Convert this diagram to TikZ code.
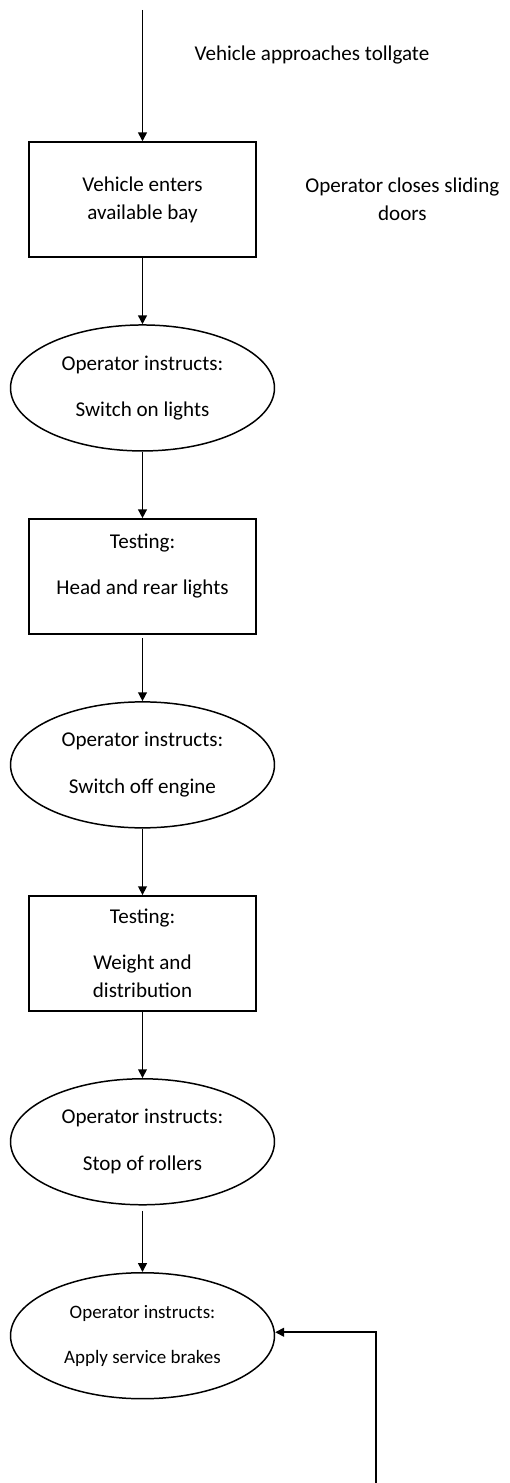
\documentclass[tikz,border=0pt]{standalone}
\usepackage{fontspec}
\setmainfont{Carlito}
\usepackage{tikz}
\usetikzlibrary{shapes,arrows.meta,positioning}

\begin{document}
\begin{tikzpicture}[
    x=0.02cm, y=-0.02cm,
    every node/.style={font=\fontsize{12}{15.9}\selectfont},
    stepbox/.style={draw, rectangle, line width=0.85pt, minimum width=4.54cm, minimum height=2.3cm, align=center},
    instruct/.style={draw, ellipse, line width=0.85pt, minimum width=5.28cm, minimum height=2.52cm, inner sep=0pt, align=center},
    note/.style={align=center},
    arrow/.style={-{Triangle[length=5pt,width=5pt]}, line width=0.85pt},
    node distance=1.33cm
]
\useasboundingbox (0,0) rectangle (510,1483);

\coordinate (start) at (142.5,10);
\node[stepbox] (enter) at (142.5,199.5) {Vehicle enters\\available bay};
\node[instruct, below=of enter] (lightson) {Operator instructs:\\[10.7pt]Switch on lights};
\node[stepbox, below=of lightson, text depth=14pt] (lights) {Testing:\\[10.7pt]Head and rear lights};
\node[instruct, below=of lights] (engineoff) {Operator instructs:\\[10.7pt]Switch off engine};
\node[stepbox, below=of engineoff] (weight) {Testing:\\[10.7pt]Weight and\\distribution};
\node[instruct, below=of weight] (rollers) {Operator instructs:\\[10.7pt]Stop of rollers};
\node[instruct, below=of rollers, font=\fontsize{10.8}{14}\selectfont] (brakes) {Operator instructs:\\[11.5pt]Apply service brakes};
\coordinate (back) at (376,1483);

% side notes
\node[note] (approach) at (312,55) {Vehicle approaches tollgate};
\node[note, right=0.85cm of enter] (doors) {Operator closes sliding\\doors};

\draw[arrow] (start) -- (enter);
\draw[arrow] (enter) -- (lightson);
\draw[arrow] (lightson) -- (lights);
\draw[arrow, shorten <=2pt] (lights) -- (engineoff);
\draw[arrow] (engineoff) -- (weight);
\draw[arrow] (weight) -- (rollers);
\draw[arrow, shorten <=3pt] (rollers) -- (brakes);
\draw[arrow] (back) |- ([yshift=2pt]brakes.east);

\end{tikzpicture}
\end{document}
